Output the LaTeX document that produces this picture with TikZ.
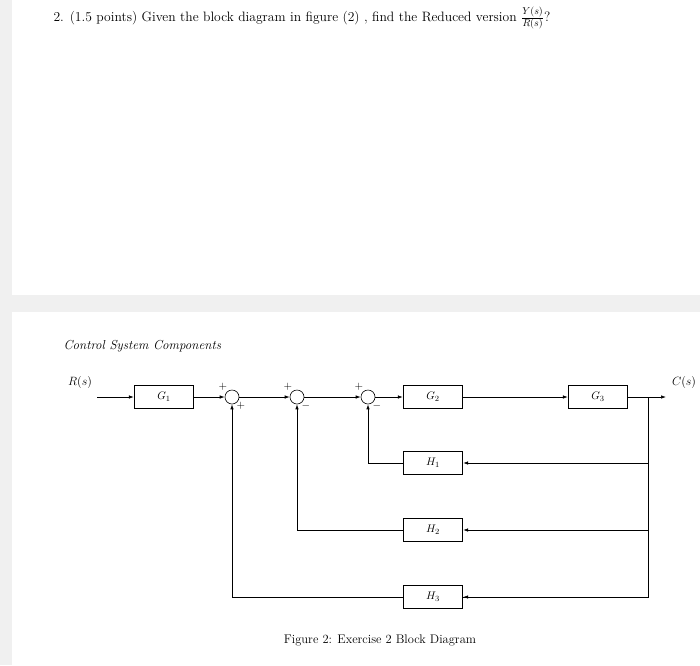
\documentclass[tikz,border=0pt]{standalone}
\usetikzlibrary{arrows.meta}
\begin{document}
\begin{tikzpicture}[x=1pt,y=-1pt,
  blk/.style={draw,line width=1.3pt,minimum width=59pt,minimum height=23pt,inner sep=0pt,font=\fontsize{11}{13}\selectfont},
  sumn/.style={draw,circle,minimum size=14pt,inner sep=0pt,line width=0.6pt},
  sig/.style={line width=0.7pt,-{Latex[length=5pt,width=3.5pt]}},
  ln/.style={line width=0.7pt},
  sg/.style={font=\fontsize{11}{13}\selectfont,inner sep=0pt}]
\useasboundingbox (0,0) rectangle (700,665);
\fill[gray!12] (0,0) rectangle (700,665);
\fill[white] (12,0) rectangle (700,295);
\fill[white] (12,312) rectangle (700,665);
\node[anchor=west,font=\fontsize{13.6}{16}\selectfont] (q) at (50,18) {2. (1.5 points) Given the block diagram in figure (2) , find the Reduced version $\frac{Y(s)}{R(s)}$?};
\node[anchor=west,font=\fontsize{13}{15}\selectfont\itshape] (t) at (60,346) {Control System Components};
\node[font=\fontsize{12}{14}\selectfont] (rs) at (80,382) {$R(s)$};
\node[font=\fontsize{12}{14}\selectfont] (cs) at (684,382) {$C(s)$};
\coordinate (in) at (97,397);
\node[blk] (g1) at (164,397) {$G_1$};
\node[sumn] (s1) at (232,397) {};
\node[sumn] (s2) at (297,397) {};
\node[sumn] (s3) at (368,397) {};
\node[blk] (g2) at (433,397) {$G_2$};
\node[blk] (g3) at (598,397) {$G_3$};
\coordinate (br) at (648,397);
\coordinate (out) at (666,397);
\node[blk] (h1) at (433,463) {$H_1$};
\node[blk] (h2) at (433,530) {$H_2$};
\node[blk] (h3) at (433,597) {$H_3$};
\node[sg] at (223,387) {$+$};
\node[sg] at (241,406) {$+$};
\node[sg] at (288,387) {$+$};
\node[sg] at (306,406) {$-$};
\node[sg] at (359,387) {$+$};
\node[sg] at (377,406) {$-$};
\draw[sig] (in) -- (g1);
\draw[sig] (g1) -- (s1);
\draw[sig] (s1) -- (s2);
\draw[sig] (s2) -- (s3);
\draw[sig] (s3) -- (g2);
\draw[sig] (g2) -- (g3);
\draw[sig] (g3) -- (out);
\draw[ln] (br) |- (h3.east);
\draw[sig] (br |- h1.east) -- (h1.east);
\draw[sig] (br |- h2.east) -- (h2.east);
\draw[sig] (br |- h3.east) -- (h3.east);
\draw[sig] (h1.west) -| (s3.south);
\draw[sig] (h2.west) -| (s2.south);
\draw[sig] (h3.west) -| (s1.south);
\node[font=\fontsize{12.5}{15}\selectfont] (cap) at (380,640) {Figure 2: Exercise 2 Block Diagram};
\end{tikzpicture}
\end{document}
